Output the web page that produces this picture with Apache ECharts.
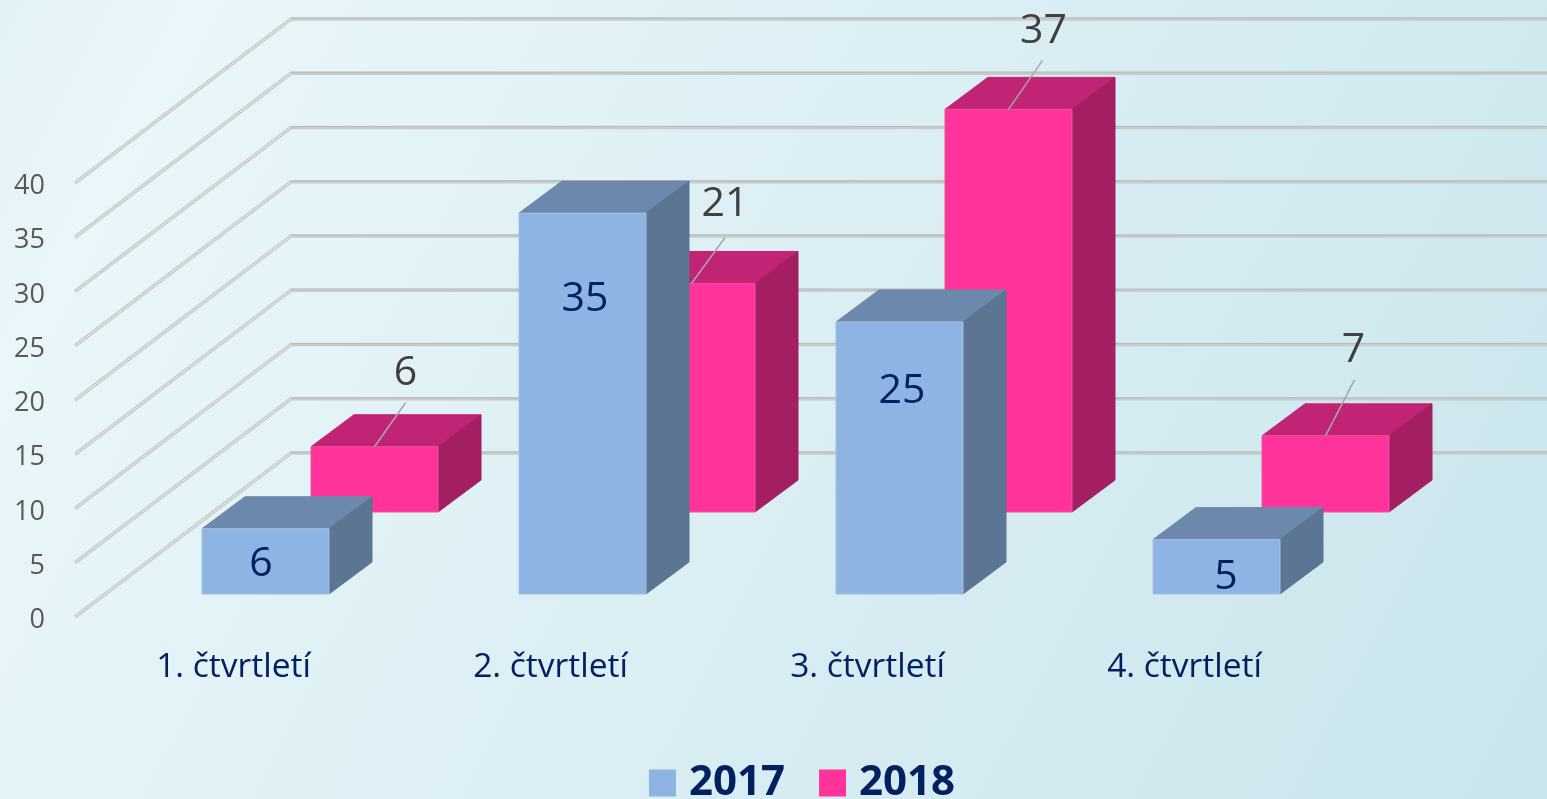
<!DOCTYPE html>
<html>
<head>
<meta charset="utf-8">
<style>
  html, body { margin: 0; padding: 0; overflow: hidden; }
  #chart { width: 1547px; height: 799px; }
</style>
<script src="https://cdn.jsdelivr.net/npm/echarts@6/dist/echarts.min.js"></script>
</head>
<body>
<div id="chart"></div>
<script>
const categories = ["1. čtvrtletí", "2. čtvrtletí", "3. čtvrtletí", "4. čtvrtletí"];
const values2017 = [6, 35, 25, 5];
const values2018 = [6, 21, 37, 7];
const yTicks = [0, 5, 10, 15, 20, 25, 30, 35, 40];

const FONT = "'Open Sans', sans-serif";
const NAVY = "#002060";
const BAR_WIDTH = 127;
// hand placed data labels, offset from the centre of the bar's top front edge
const labelOffset2017 = [[-4.5, 36], [2.5, 86], [2.5, 69], [9.5, 38]];
const labelOffset2018 = [[31, -73], [33.5, -79], [35, -78], [28, -85]];
const leaderEnd2018 = [[31, -44], [33.5, -46], [34, -49], [29, -56]];

const chart = echarts.init(document.getElementById("chart"));

// one row of 3d boxes; shift moves the row back from the axis plane
function boxRenderer(shift, colors, labelOffsets, leaderEnds, labelColor) {
  return function (params, api) {
    const i = api.value(0);
    const base = api.coord([i, 0]);
    const top = api.coord([i, api.value(1)]);
    const cx = base[0] + shift[0];
    const x0 = cx - BAR_WIDTH / 2;
    const x1 = cx + BAR_WIDTH / 2;
    const y1 = base[1] + shift[1];
    // boxes come out a touch taller than the wall ticks
    const y0 = y1 - (base[1] - top[1]) * 1.003;
    const dx = 43;
    const dy = -32;
    const children = [
      {
        type: "polygon",
        shape: { points: [[x0, y0], [x0 + dx, y0 + dy], [x1 + dx, y0 + dy], [x1, y0]] },
        style: { fill: colors.top, stroke: colors.top, lineWidth: 1 },
      },
      {
        type: "polygon",
        shape: { points: [[x1, y0], [x1 + dx, y0 + dy], [x1 + dx, y1 + dy], [x1, y1]] },
        style: { fill: colors.side, stroke: colors.side, lineWidth: 1 },
      },
      {
        type: "rect",
        shape: { x: x0, y: y0, width: BAR_WIDTH, height: y1 - y0 },
        style: { fill: colors.front, stroke: colors.edge, lineWidth: 1 },
      },
    ];
    if (leaderEnds) {
      const end = leaderEnds[i];
      children.push({
        type: "line",
        shape: { x1: cx, y1: y0, x2: cx + end[0], y2: y0 + end[1] },
        style: { stroke: "#a6a6a6", lineWidth: 1.5 },
      });
    }
    const off = labelOffsets[i];
    children.push({
      type: "text",
      x: cx + off[0],
      y: y0 + off[1],
      style: {
        text: String(api.value(1)),
        fill: labelColor,
        font: "41px " + FONT,
        align: "center",
        verticalAlign: "middle",
      },
    });
    return { type: "group", children: children };
  };
}

// side wall + back wall gridline for one tick
function wallRenderer(params, api) {
  const y = api.coord([0, api.value(0)])[1];
  const x = params.coordSys.x;
  const corner = [x + 216, y - 164];
  const right = [api.getWidth(), y - 164];
  return {
    type: "group",
    children: [
      {
        type: "polyline",
        shape: { points: [[x, y], corner, right] },
        style: { stroke: "#c6cccd", lineWidth: 3.5, fill: null },
      },
      {
        type: "line",
        shape: { x1: x, y1: y, x2: corner[0], y2: corner[1] },
        style: { stroke: "#e6eaeb", lineWidth: 1 },
      },
      {
        type: "line",
        shape: { x1: corner[0], y1: corner[1] - 1, x2: right[0], y2: right[1] - 1 },
        style: { stroke: "#b8bdbd", lineWidth: 1.2 },
      },
    ],
  };
}

const option = {
  animation: false,
  backgroundColor: new echarts.graphic.LinearGradient(0, 0, 1, 1, [
    { offset: 0, color: "#e3f2f6" },
    { offset: 0.1, color: "#e9f6fa" },
    { offset: 1, color: "#c9e5ec" },
  ]),
  grid: { left: 75, top: 183, width: 1268, height: 434 },
  legend: {
    left: 644,
    top: 757,
    data: ["2017", "2018"],
    icon: "rect",
    itemWidth: 27,
    itemHeight: 27,
    itemGap: 34,
    selectedMode: false,
    textStyle: {
      color: NAVY,
      fontFamily: FONT,
      fontWeight: "bold",
      fontSize: 42,
      padding: [0, 0, 0, 8],
    },
  },
  xAxis: {
    type: "category",
    data: categories,
    axisLine: { show: false },
    axisTick: { show: false },
    axisLabel: { color: NAVY, fontFamily: FONT, fontSize: 33.5, margin: 33 },
  },
  yAxis: {
    type: "value",
    min: 0,
    max: 40,
    interval: 5,
    axisLine: { show: false },
    axisTick: { show: false },
    splitLine: { show: false },
    axisLabel: {
      color: "#595959",
      fontFamily: FONT,
      fontSize: 27,
      margin: 30,
      // sits a few px under the tick in the original
      verticalAlign: "top",
      lineHeight: 7,
    },
  },
  series: [
    {
      name: "walls",
      type: "custom",
      silent: true,
      z: 1,
      renderItem: wallRenderer,
      encode: { y: 0 },
      data: yTicks.map((t) => [t]),
    },
    {
      name: "2018",
      type: "custom",
      z: 3,
      itemStyle: { color: "#ff3399" },
      renderItem: boxRenderer(
        [141, -105],
        { front: "#ff3399", top: "#c12474", side: "#a31f61", edge: "#f0529f" },
        labelOffset2018,
        leaderEnd2018,
        "#404040"
      ),
      encode: { x: 0, y: 1 },
      data: values2018.map((v, i) => [i, v]),
    },
    {
      name: "2017",
      type: "custom",
      z: 4,
      itemStyle: { color: "#8eb4e3" },
      renderItem: boxRenderer(
        [32, -23],
        { front: "#8eb4e3", top: "#6c88ac", side: "#5c7592", edge: "#a3c0de" },
        labelOffset2017,
        null,
        NAVY
      ),
      encode: { x: 0, y: 1 },
      data: values2017.map((v, i) => [i, v]),
    },
  ],
};

chart.setOption(option);
</script>
</body>
</html>
